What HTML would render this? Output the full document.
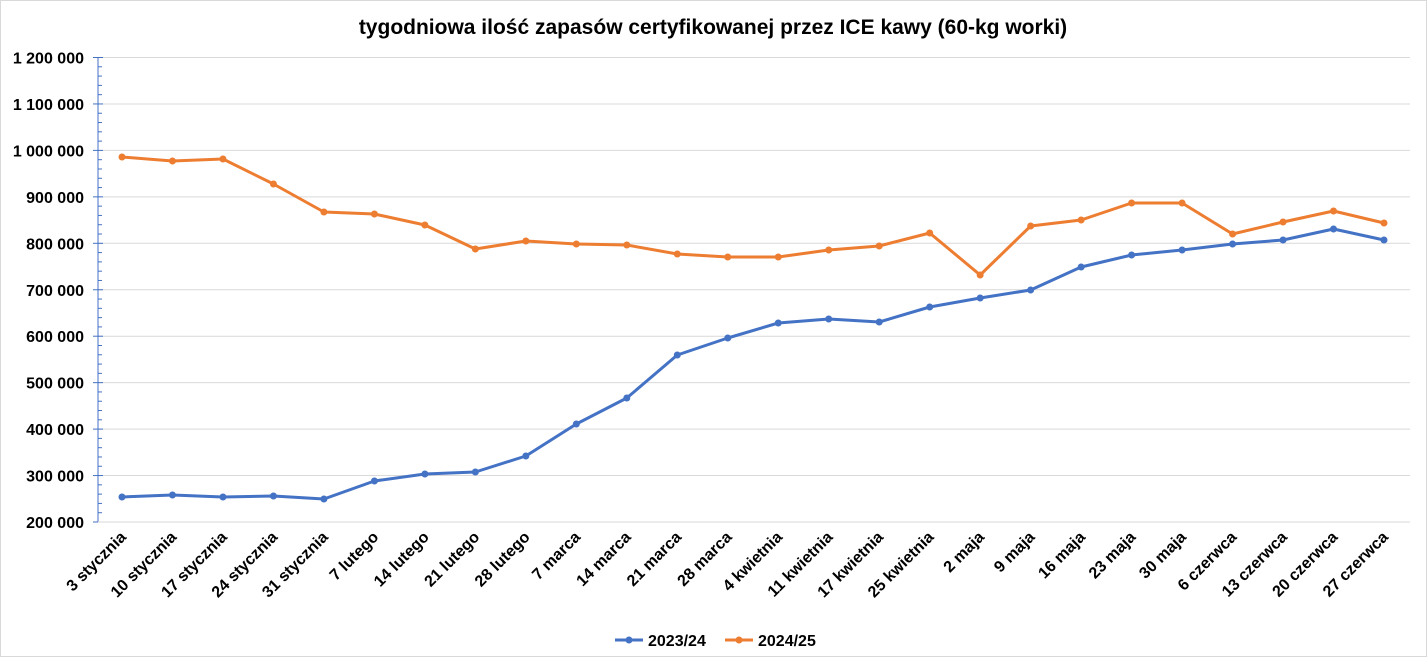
<!DOCTYPE html>
<html><head><meta charset="utf-8"><style>
html,body{margin:0;padding:0;background:#fff}
svg{display:block;font-family:"Liberation Sans",Arial,sans-serif}
</style></head><body>
<svg id="c" width="1427" height="657" viewBox="0 0 1427 657" xmlns="http://www.w3.org/2000/svg">
<rect x="0.5" y="0.5" width="1426" height="656" fill="#fff" stroke="#d9d9d9"/>
<text x="713" y="34" text-anchor="middle" font-size="21" font-weight="bold" fill="#000">tygodniowa ilość zapasów certyfikowanej przez ICE kawy (60-kg worki)</text>
<g id="g"></g>
<g transform="translate(615,640)">
<line x1="0" y1="0" x2="28" y2="0" stroke="#4472c4" stroke-width="3"/><circle cx="14" cy="0" r="3.5" fill="#4472c4"/>
<text x="33" y="6" font-size="16" font-weight="bold">2023/24</text>
<line x1="110" y1="0" x2="138" y2="0" stroke="#ed7d31" stroke-width="3"/><circle cx="124" cy="0" r="3.5" fill="#ed7d31"/>
<text x="143" y="6" font-size="16" font-weight="bold">2024/25</text>
</g>
</svg>
<script>
(function(){
var g=document.getElementById('g'),s='';
var T=57.5,B=522,st=(B-T)/10;
var lab=['1 200 000','1 100 000','1 000 000','900 000','800 000','700 000','600 000','500 000','400 000','300 000','200 000'];
for(var i=0;i<=10;i++){var y=T+i*st;
 if(i<10)s+='<line x1="98" x2="1410" y1="'+y+'" y2="'+y+'" stroke="#d9d9d9"/>';
 s+='<line x1="93" x2="103" y1="'+y+'" y2="'+y+'" stroke="#4472c4"/>';
 s+='<text x="84" y="'+(y+6)+'" text-anchor="end" font-size="16" font-weight="bold">'+lab[i]+'</text>';
 if(i<10)for(var k=1;k<5;k++){var yy=y+k*st/5;s+='<line x1="98" x2="102" y1="'+yy+'" y2="'+yy+'" stroke="#4472c4"/>';}
}
s+='<line x1="98" x2="98" y1="'+T+'" y2="'+B+'" stroke="#4472c4"/>';
s+='<line x1="98" x2="1410" y1="'+B+'" y2="'+B+'" stroke="#d9d9d9"/>';
var d=['3 stycznia','10 stycznia','17 stycznia','24 stycznia','31 stycznia','7 lutego','14 lutego','21 lutego','28 lutego','7 marca','14 marca','21 marca','28 marca','4 kwietnia','11 kwietnia','17 kwietnia','25 kwietnia','2 maja','9 maja','16 maja','23 maja','30 maja','6 czerwca','13 czerwca','20 czerwca','27 czerwca'];
var b=[497,495,497,496,499,481,474,472,456,424,398,355,338,323,319,322,307,298,290,267,255,250,244,240,229,240];
var o=[157,161,159,184,212,214,225,249,241,244,245,254,257,257,250,246,233,275,226,220,203,203,234,222,211,223];
function X(i){return 122+i*(1384-122)/25;}
function ser(a,c){var p=a.map(function(v,i){return X(i)+','+v}).join(' ');
 var r='<polyline points="'+p+'" fill="none" stroke="'+c+'" stroke-width="3" stroke-linejoin="round"/>';
 a.forEach(function(v,i){r+='<circle cx="'+X(i)+'" cy="'+v+'" r="3.5" fill="'+c+'"/>'});return r;}
s+=ser(b,'#4472c4')+ser(o,'#ed7d31');
d.forEach(function(t,i){var x=X(i)+5;s+='<text transform="translate('+x+',538) rotate(-45)" text-anchor="end" font-size="16" font-weight="bold">'+t+'</text>'});
g.innerHTML=s;
})();
</script>
</body></html>
